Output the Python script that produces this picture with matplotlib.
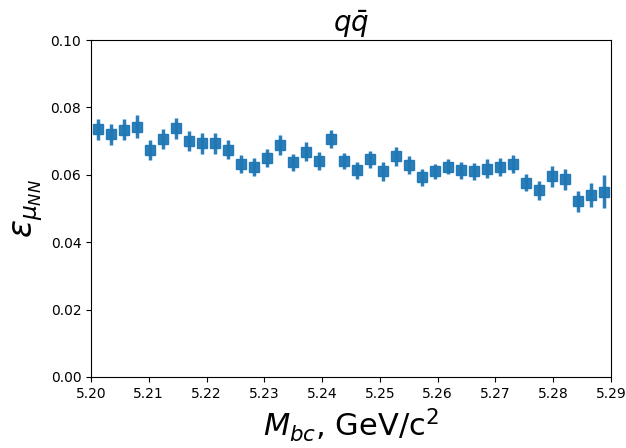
import numpy as np
import matplotlib
matplotlib.use("Agg")
import matplotlib.pyplot as plt
from matplotlib.ticker import FormatStrFormatter

x_lo, x_hi, n_bins = 5.20, 5.29, 40

eff = [0.0735, 0.0720, 0.0734, 0.0743, 0.0674, 0.0706, 0.0738, 0.0701, 0.0693, 0.0693,
       0.0674, 0.0632, 0.0623, 0.0650, 0.0688, 0.0637, 0.0669, 0.0641, 0.0706, 0.0641,
       0.0614, 0.0646, 0.0610, 0.0655, 0.0629, 0.0592, 0.0610, 0.0624, 0.0614, 0.0611,
       0.0618, 0.0623, 0.0632, 0.0577, 0.0554, 0.0595, 0.0587, 0.0522, 0.0540, 0.0549]
eff_err = [0.0031, 0.0032, 0.0032, 0.0033, 0.0030, 0.0030, 0.0032, 0.0030, 0.0030, 0.0031,
           0.0028, 0.0028, 0.0026, 0.0027, 0.0029, 0.0026, 0.0028, 0.0026, 0.0026, 0.0025,
           0.0025, 0.0026, 0.0027, 0.0028, 0.0026, 0.0025, 0.0023, 0.0023, 0.0025, 0.0025,
           0.0028, 0.0026, 0.0026, 0.0026, 0.0029, 0.0030, 0.0031, 0.0031, 0.0036, 0.0049]


def main():
    edges = np.linspace(x_lo, x_hi, n_bins + 1)
    centers = 0.5 * (edges[1:] + edges[:-1])

    fig = plt.figure(figsize=(6.26, 4.48), dpi=100)
    ax = fig.add_axes([0.1454, 0.1585, 0.8306, 0.7522])
    ax.errorbar(centers, eff, yerr=eff_err, fmt="s", color="#1f77b4",
                markersize=7, elinewidth=2.5, alpha=0.95)

    ax.set_xlim(x_lo, x_hi)
    ax.set_ylim(0, 0.10)
    ax.set_xticks(np.arange(5.20, 5.2901, 0.01))
    ax.set_yticks(np.arange(0, 0.1001, 0.02))
    ax.xaxis.set_major_formatter(FormatStrFormatter("%.2f"))
    ax.yaxis.set_major_formatter(FormatStrFormatter("%.2f"))
    ax.tick_params(labelsize=10)

    ax.set_title(r"$q\bar{q}$", fontsize=20)
    ax.set_xlabel(r"$M_{bc}$, GeV/c$^2$", fontsize=22)
    ax.set_ylabel(r"$\epsilon_{\mu_{NN}}$", fontsize=24)

    fig.savefig("out.png", dpi=100)


if __name__ == "__main__":
    main()
